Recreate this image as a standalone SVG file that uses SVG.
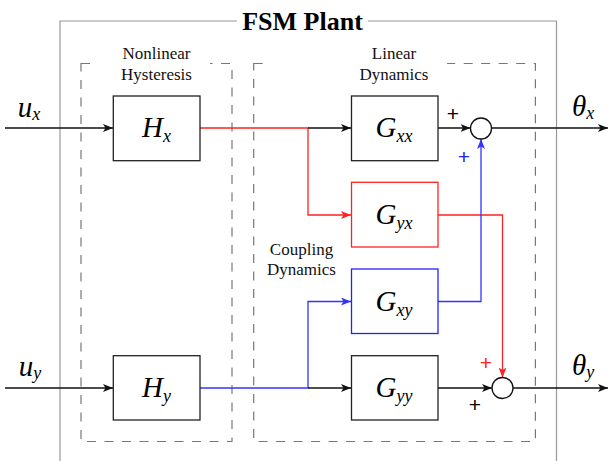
<svg xmlns="http://www.w3.org/2000/svg" width="610" height="461" viewBox="0 0 610 461">
<style>
.box{fill:#fff;stroke:#222;stroke-width:1.3}
.rbox{fill:#fff;stroke:#f22;stroke-width:1.3}
.bbox{fill:#fff;stroke:#22f;stroke-width:1.3}
.k{fill:none;stroke:#111;stroke-width:1.3}
.r{fill:none;stroke:#f22;stroke-width:1.3}
.b{fill:none;stroke:#33f;stroke-width:1.3}
.dash{fill:none;stroke:#777;stroke-width:1.2;stroke-dasharray:9 8.5}
.lbl{font-family:'Liberation Serif','Times New Roman',serif;font-size:17px;fill:#111;text-anchor:middle}
.m{font-family:'Liberation Serif','Times New Roman',serif;font-style:italic;font-size:29px;fill:#000;text-anchor:middle}
.s{font-size:18px}
.plus{font-family:'Liberation Sans',sans-serif;font-size:21px;text-anchor:middle}
</style>
<defs>
<marker id="ak" viewBox="0 0 10 8" refX="10" refY="4" markerWidth="10" markerHeight="8" markerUnits="userSpaceOnUse" orient="auto"><path d="M0,0 L10,4 L0,8 L2.5,4 z" fill="#111"/></marker>
<marker id="ar" viewBox="0 0 10 8" refX="10" refY="4" markerWidth="10" markerHeight="8" markerUnits="userSpaceOnUse" orient="auto"><path d="M0,0 L10,4 L0,8 L2.5,4 z" fill="#f22"/></marker>
<marker id="ab" viewBox="0 0 10 8" refX="10" refY="4" markerWidth="10" markerHeight="8" markerUnits="userSpaceOnUse" orient="auto"><path d="M0,0 L10,4 L0,8 L2.5,4 z" fill="#33f"/></marker>
</defs>
<rect width="610" height="461" fill="#fff"/>
<g id="plant">
<path d="M237,21 H60 V461 M368,21 H556.5 V461" fill="none" stroke="#999" stroke-width="1.2"/>
<text x="302.5" y="29.5" font-family="'Liberation Serif',serif" font-weight="bold" font-size="26" text-anchor="middle">FSM Plant</text>
</g>
<g id="nonlinear-group">
<rect class="dash" x="81" y="63.5" width="151" height="378"/>
<rect x="95" y="58" width="115" height="10" fill="#fff"/>
<text class="lbl" x="156.5" y="59">Nonlinear</text>
<text class="lbl" x="156.5" y="80">Hysteresis</text>
</g>
<g id="linear-group">
<rect class="dash" x="253.7" y="63.5" width="281.7" height="378"/>
<rect x="270" y="58" width="177" height="10" fill="#fff"/>
<text class="lbl" x="394" y="59">Linear</text>
<text class="lbl" x="394" y="80">Dynamics</text>
<text class="lbl" x="301.5" y="255">Coupling</text>
<text class="lbl" x="301.5" y="275">Dynamics</text>
</g>
<g id="connectors">
<path class="k" d="M5,128 H113" marker-end="url(#ak)"/>
<path class="r" d="M200,128 H308 V215 H351" marker-end="url(#ar)"/>
<path class="k" d="M308,128 H351" marker-end="url(#ak)"/>
<path class="k" d="M438,128 H470.5" marker-end="url(#ak)"/>
<path class="k" d="M491.5,128 H608" marker-end="url(#ak)"/>
<path class="r" d="M438,215 H502.5 V377.5" marker-end="url(#ar)"/>
<path class="b" d="M438,301.5 H481 V139" marker-end="url(#ab)"/>
<path class="k" d="M5,388 H113" marker-end="url(#ak)"/>
<path class="b" d="M200,388 H308 V301.5 H351" marker-end="url(#ab)"/>
<path class="k" d="M308,388 H351" marker-end="url(#ak)"/>
<path class="k" d="M438,388 H492" marker-end="url(#ak)"/>
<path class="k" d="M513,388 H608" marker-end="url(#ak)"/>
</g>
<g id="Hx"><rect class="box" x="113.3" y="96" width="86.7" height="64.7"/><text class="m" x="156.5" y="137">H<tspan class="s" dy="5">x</tspan></text></g>
<g id="Hy"><rect class="box" x="113.3" y="355.7" width="86.7" height="64.3"/><text class="m" x="156.5" y="397">H<tspan class="s" dy="5">y</tspan></text></g>
<g id="Gxx"><rect class="box" x="351.5" y="96" width="86.5" height="64.7"/><text class="m" x="394" y="137">G<tspan class="s" dy="5">xx</tspan></text></g>
<g id="Gyx"><rect class="rbox" x="351.5" y="182.3" width="86.5" height="64.7"/><text class="m" x="394" y="224">G<tspan class="s" dy="5">yx</tspan></text></g>
<g id="Gxy"><rect class="bbox" x="351.5" y="269" width="86.5" height="64.5"/><text class="m" x="394" y="310.5">G<tspan class="s" dy="5">xy</tspan></text></g>
<g id="Gyy"><rect class="box" x="351.5" y="355.7" width="86.5" height="64.3"/><text class="m" x="394" y="397">G<tspan class="s" dy="5">yy</tspan></text></g>
<g id="sum1"><circle cx="481" cy="128.5" r="10.5" fill="#fff" stroke="#111" stroke-width="1.3"/>
<text class="plus" x="453" y="121">+</text><text class="plus" x="464" y="164" fill="#22f">+</text></g>
<g id="sum2"><circle cx="502.5" cy="388" r="10.5" fill="#fff" stroke="#111" stroke-width="1.3"/>
<text class="plus" x="486" y="369.5" fill="#f22">+</text><text class="plus" x="475" y="412">+</text></g>
<g id="io-labels">
<text class="m" x="29" y="117">u<tspan class="s" dy="3">x</tspan></text>
<text class="m" x="30" y="376">u<tspan class="s" dy="3">y</tspan></text>
<text class="m" x="583" y="116">θ<tspan class="s" dy="3">x</tspan></text>
<text class="m" x="583" y="375">θ<tspan class="s" dy="3">y</tspan></text>
</g>
</svg>
